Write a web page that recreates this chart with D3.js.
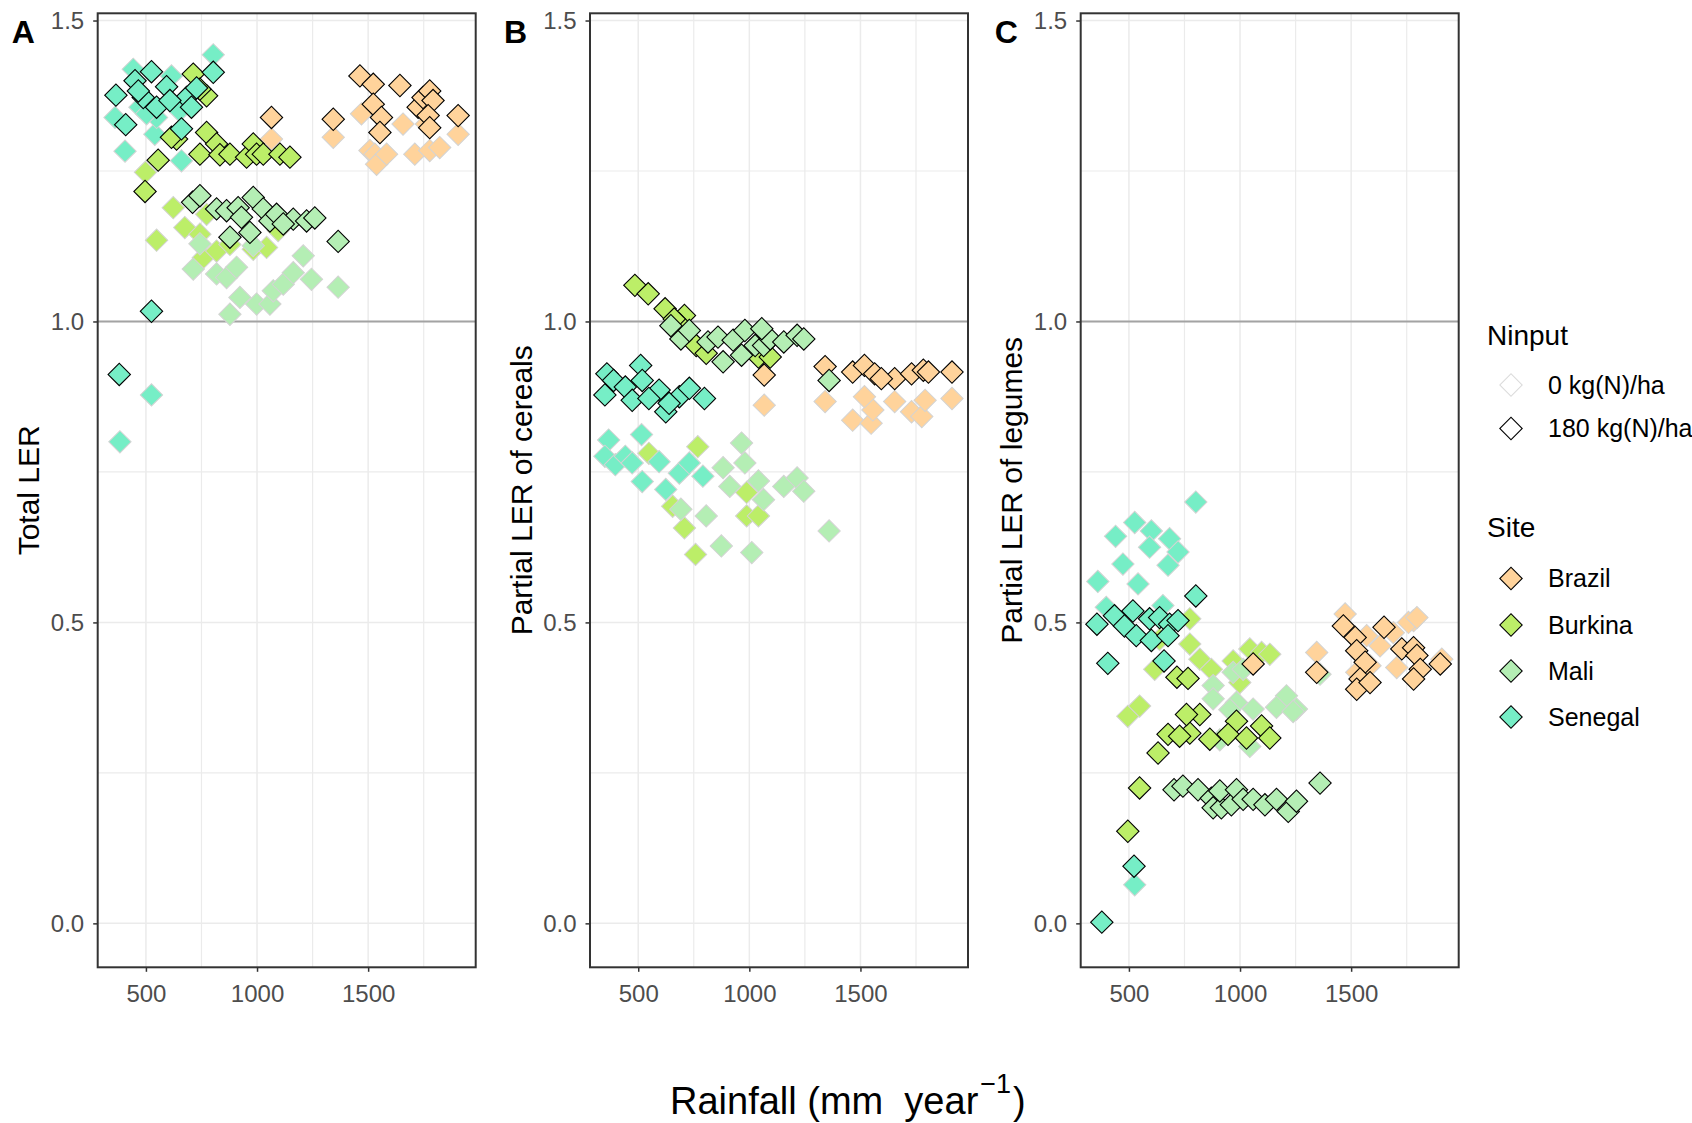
<!DOCTYPE html>
<html>
<head>
<meta charset="utf-8">
<script src="https://cdn.jsdelivr.net/npm/d3@7"></script>
<style>
  body { margin: 0; background: #fff; }
  text { font-family: "Liberation Sans", Arial, sans-serif; }
</style>
</head>
<body>
<svg id="chart" width="1692" height="1123"></svg>
<script>
// ---- data: [rainfall (mm/yr), LER] ----
// Panel A: total LER
const totalBrazil0 = [[1065,1.303],[1343,1.306],[1470,1.345],[1508,1.284],[1530,1.278],[1538,1.261],[1583,1.278],[1657,1.328],[1710,1.278],[1762,1.328],[1777,1.284],[1822,1.289],[1905,1.311]];
const totalBrazil180 = [[1065,1.339],[1343,1.336],[1463,1.408],[1523,1.394],[1523,1.361],[1560,1.339],[1553,1.314],[1643,1.392],[1725,1.356],[1747,1.372],[1777,1.383],[1792,1.367],[1770,1.342],[1777,1.322],[1905,1.342]];
const totalBurkina0 = [[498,1.248],[548,1.135],[623,1.189],[675,1.156],[743,1.145],[758,1.106],[818,1.117],[773,1.178],[878,1.128],[983,1.120],[1043,1.123],[1095,1.151]];
const totalBurkina180 = [[496,1.216],[555,1.268],[638,1.303],[713,1.411],[773,1.375],[773,1.314],[743,1.278],[818,1.295],[833,1.277],[878,1.278],[953,1.273],[983,1.295],[998,1.278],[1028,1.278],[1103,1.278],[1148,1.273],[743,1.386],[615,1.306]];
const totalMali0 = [[1365,1.057],[713,1.087],[818,1.079],[863,1.073],[908,1.090],[878,1.012],[923,1.040],[998,1.029],[1058,1.029],[1073,1.051],[1118,1.062],[1163,1.081],[1208,1.109],[1245,1.070],[743,1.129],[983,1.126]];
const totalMali180 = [[1365,1.133],[710,1.198],[743,1.209],[818,1.187],[863,1.184],[915,1.189],[983,1.206],[1028,1.187],[930,1.173],[878,1.140],[968,1.148],[1058,1.167],[1088,1.178],[1163,1.170],[1223,1.167],[1260,1.172],[1118,1.162]];
const totalSenegal0 = [[383,0.800],[525,0.878],[406,1.283],[361,1.339],[540,1.311],[660,1.267],[803,1.443],[443,1.419],[615,1.408],[473,1.356],[548,1.339],[651,1.350],[503,1.345]];
const totalSenegal180 = [[380,0.912],[525,1.017],[365,1.376],[409,1.327],[525,1.415],[451,1.400],[488,1.372],[593,1.390],[548,1.356],[660,1.320],[683,1.372],[728,1.388],[803,1.414],[608,1.367],[466,1.383],[705,1.356]];

// Panel B: partial LER of cereals
const cerealBrazil0 = [[1067,0.861],[1341,0.867],[1465,0.836],[1548,0.831],[1556,0.853],[1518,0.875],[1654,0.867],[1730,0.850],[1776,0.842],[1791,0.869],[1912,0.872]];
const cerealBrazil180 = [[1067,0.911],[1341,0.925],[1465,0.916],[1518,0.927],[1564,0.913],[1654,0.905],[1730,0.913],[1783,0.919],[1806,0.916],[1912,0.916],[1594,0.905]];
const cerealBurkina0 = [[768,0.792],[708,0.657],[758,0.613],[988,0.677],[1041,0.677],[548,0.781],[988,0.716],[655,0.693]];
const cerealBurkina180 = [[485,1.060],[545,1.046],[621,1.021],[708,1.010],[685,0.996],[761,0.960],[806,0.947],[1041,0.941],[1094,0.941],[662,1.004]];
const cerealMali0 = [[965,0.798],[980,0.765],[882,0.757],[1041,0.735],[1155,0.726],[1215,0.740],[1245,0.718],[692,0.688],[806,0.677],[874,0.627],[1011,0.616],[1359,0.652],[912,0.726],[1064,0.704]];
const cerealMali180 = [[647,0.993],[692,0.971],[730,0.985],[814,0.966],[859,0.974],[882,0.933],[927,0.969],[980,0.985],[965,0.944],[1026,0.960],[1064,0.960],[1094,0.971],[1155,0.966],[1215,0.977],[1245,0.971],[1359,0.902],[1056,0.988]];
const cerealSenegal0 = [[367,0.803],[515,0.812],[350,0.776],[397,0.762],[442,0.776],[518,0.734],[594,0.767],[624,0.721],[685,0.748],[730,0.765],[791,0.743],[473,0.765]];
const cerealSenegal180 = [[359,0.913],[511,0.927],[389,0.902],[350,0.878],[442,0.891],[518,0.902],[594,0.886],[685,0.875],[730,0.889],[798,0.872],[624,0.850],[473,0.869],[548,0.872],[639,0.864]];

// Panel C: partial LER of legumes
const legumeBrazil0 = [[1345,0.450],[1473,0.514],[1570,0.478],[1781,0.503],[1758,0.500],[1705,0.425],[1908,0.439],[1630,0.461],[1690,0.483],[1525,0.417],[1585,0.428],[1796,0.508]];
const legumeBrazil180 = [[1059,0.431],[1345,0.417],[1465,0.494],[1518,0.475],[1648,0.492],[1525,0.453],[1563,0.434],[1540,0.406],[1525,0.389],[1585,0.400],[1728,0.456],[1781,0.458],[1796,0.445],[1811,0.422],[1781,0.406],[1901,0.431]];
const legumeBurkina0 = [[774,0.506],[638,0.472],[774,0.464],[819,0.439],[871,0.422],[969,0.436],[1044,0.456],[1097,0.450],[1134,0.447],[616,0.422],[999,0.400],[495,0.344],[548,0.361]];
const legumeBurkina180 = [[716,0.409],[766,0.407],[548,0.225],[495,0.153],[631,0.283],[676,0.314],[774,0.316],[819,0.347],[759,0.347],[864,0.306],[984,0.336],[946,0.314],[1029,0.308],[1097,0.328],[1134,0.308],[728,0.311]];
const legumeMali0 = [[1360,0.414],[879,0.395],[969,0.417],[1014,0.422],[1059,0.356],[1209,0.378],[1254,0.356],[1164,0.359],[984,0.367],[879,0.373],[1239,0.352],[954,0.355],[909,0.305],[1044,0.294]];
const legumeMali180 = [[1360,0.233],[703,0.222],[743,0.228],[811,0.222],[871,0.208],[879,0.192],[916,0.192],[909,0.220],[961,0.197],[984,0.222],[1014,0.206],[1059,0.206],[1112,0.197],[1164,0.206],[1217,0.186],[1254,0.203]];
const legumeSenegal0 = [[801,0.700],[526,0.666],[440,0.643],[601,0.652],[683,0.639],[593,0.625],[721,0.617],[473,0.597],[676,0.595],[360,0.568],[541,0.564],[398,0.525],[653,0.528],[526,0.064]];
const legumeSenegal180 = [[801,0.544],[356,0.497],[435,0.511],[518,0.519],[480,0.494],[593,0.506],[533,0.478],[638,0.508],[683,0.497],[721,0.503],[601,0.470],[676,0.478],[405,0.432],[658,0.436],[523,0.095],[378,0.002]];

const sites = ["Brazil", "Burkina", "Mali", "Senegal"];
const siteColors = ["#FFD39B", "#BCEE68", "#B4EEB4", "#76EEC6"];
const ninputLabels = ["0 kg(N)/ha", "180 kg(N)/ha"];
const ninputStroke = ["#D3D3D3", "#000000"];

const panelLetters = ["A", "B", "C"];
const panelTitles = ["Total LER", "Partial LER of cereals", "Partial LER of legumes"];
const panelSeries = [
    { Brazil: [totalBrazil0, totalBrazil180], Burkina: [totalBurkina0, totalBurkina180], Mali: [totalMali0, totalMali180], Senegal: [totalSenegal0, totalSenegal180] },
    { Brazil: [cerealBrazil0, cerealBrazil180], Burkina: [cerealBurkina0, cerealBurkina180], Mali: [cerealMali0, cerealMali180], Senegal: [cerealSenegal0, cerealSenegal180] },
    { Brazil: [legumeBrazil0, legumeBrazil180], Burkina: [legumeBurkina0, legumeBurkina180], Mali: [legumeMali0, legumeMali180], Senegal: [legumeSenegal0, legumeSenegal180] }
];

const yTicks = [0, 0.5, 1.0, 1.5];
const yMinor = [0.25, 0.75, 1.25];
const xTicks = [500, 1000, 1500];
const xMinor = [750, 1250, 1750];

// ---- layout ----
const svg = d3.select("#chart");
svg.append("rect").attr("width", 1692).attr("height", 1123).attr("fill", "#fff");

const panelLefts = [97.7, 590, 1080.7];
const panelWidth = 378;
const panelTop = 13.3;
const panelBottom = 967.3;

const yScale = d3.scaleLinear().domain([-0.073, 1.512]).range([panelBottom, panelTop]);
const diamond = d3.symbol(d3.symbolSquare, 250);

panelLetters.forEach((letter, p) => {
    const left = panelLefts[p];
    const xScale = d3.scaleLinear().domain([283, 1984]).range([left, left + panelWidth]);
    const g = svg.append("g");

    // grid
    g.selectAll(".ygrid").data(yMinor.concat(yTicks)).enter().append("line")
        .attr("x1", left).attr("x2", left + panelWidth)
        .attr("y1", d => yScale(d)).attr("y2", d => yScale(d))
        .attr("stroke", "#EBEBEB").attr("stroke-width", d => yMinor.includes(d) ? 1.2 : 1.5);
    g.selectAll(".xgrid").data(xMinor.concat(xTicks)).enter().append("line")
        .attr("y1", panelTop).attr("y2", panelBottom)
        .attr("x1", d => xScale(d)).attr("x2", d => xScale(d))
        .attr("stroke", "#EBEBEB").attr("stroke-width", d => xMinor.includes(d) ? 1.2 : 1.5);

    // reference line at LER = 1
    g.append("line")
        .attr("x1", left).attr("x2", left + panelWidth)
        .attr("y1", yScale(1)).attr("y2", yScale(1))
        .attr("stroke", "#A3A3A3").attr("stroke-width", 2);

    // points: 0 N first, then 180 N
    [0, 1].forEach(n => {
        sites.forEach((site, s) => {
            g.selectAll(".pt-" + site + n)
                .data(panelSeries[p][site][n])
                .enter().append("path")
                .attr("d", diamond)
                .attr("transform", d => "translate(" + xScale(d[0]) + "," + yScale(d[1]) + ") rotate(45)")
                .attr("fill", siteColors[s])
                .attr("stroke", ninputStroke[n])
                .attr("stroke-width", n === 1 ? 1.1 : 1);
        });
    });

    // panel border
    g.append("rect")
        .attr("x", left).attr("y", panelTop)
        .attr("width", panelWidth).attr("height", panelBottom - panelTop)
        .attr("fill", "none").attr("stroke", "#333333").attr("stroke-width", 2);

    // axes
    const yAxis = g.append("g")
        .attr("transform", "translate(" + left + ",0)")
        .call(d3.axisLeft(yScale).tickValues(yTicks).tickFormat(d3.format(".1f")).tickSize(4.5).tickPadding(9));
    const xAxis = g.append("g")
        .attr("transform", "translate(0," + panelBottom + ")")
        .call(d3.axisBottom(xScale).tickValues(xTicks).tickFormat(d3.format("d")).tickSize(4.5).tickPadding(13));
    [yAxis, xAxis].forEach(ax => {
        ax.select(".domain").remove();
        ax.selectAll(".tick line").attr("stroke", "#333333").attr("stroke-width", 1.5);
        ax.selectAll(".tick text").attr("fill", "#4D4D4D")
            .style("font-size", "24px").style("font-family", "Liberation Sans, Arial, sans-serif");
    });

    // y title
    g.append("text")
        .attr("transform", "translate(" + (left - 58.5) + "," + ((panelTop + panelBottom) / 2) + ") rotate(-90)")
        .attr("text-anchor", "middle")
        .style("font-size", "30px")
        .attr("fill", "#000")
        .text(panelTitles[p]);

    // panel tag
    g.append("text")
        .attr("x", left - 86).attr("y", 43)
        .style("font-size", "32px").style("font-weight", "bold")
        .attr("fill", "#000")
        .text(letter);
});

// x title with superscript
const xTitle = svg.append("text")
    .attr("x", 670).attr("y", 1114)
    .style("font-size", "38px").attr("fill", "#000");
xTitle.append("tspan").text("Rainfall (mm\u00A0\u00A0year");
xTitle.append("tspan").attr("dx", 2).attr("dy", -21).style("font-size", "27px").text("\u22121");
xTitle.append("tspan").attr("dx", 2).attr("dy", 21).text(")");

// ---- legend ----
const legend = svg.append("g");
legend.append("text").attr("x", 1487).attr("y", 345).style("font-size", "28px").attr("fill", "#000").text("Ninput");
const ninKeyY = [385, 428.5];
ninputLabels.forEach((lab, i) => {
    legend.append("path").attr("d", diamond)
        .attr("transform", "translate(1511," + ninKeyY[i] + ") rotate(45)")
        .attr("fill", "#fff").attr("stroke", i === 0 ? "#DCDCDC" : "#000").attr("stroke-width", 1.1);
    legend.append("text").attr("x", 1548).attr("y", ninKeyY[i] + 8.5)
        .style("font-size", "25px").attr("fill", "#000").text(lab);
});
legend.append("text").attr("x", 1487).attr("y", 537).style("font-size", "28px").attr("fill", "#000").text("Site");
const siteKeyY = [578.5, 625, 671, 717];
sites.forEach((site, i) => {
    legend.append("path").attr("d", diamond)
        .attr("transform", "translate(1511," + siteKeyY[i] + ") rotate(45)")
        .attr("fill", siteColors[i]).attr("stroke", "#000").attr("stroke-width", 1.1);
    legend.append("text").attr("x", 1548).attr("y", siteKeyY[i] + 8.5)
        .style("font-size", "25px").attr("fill", "#000").text(site);
});
</script>
</body>
</html>
